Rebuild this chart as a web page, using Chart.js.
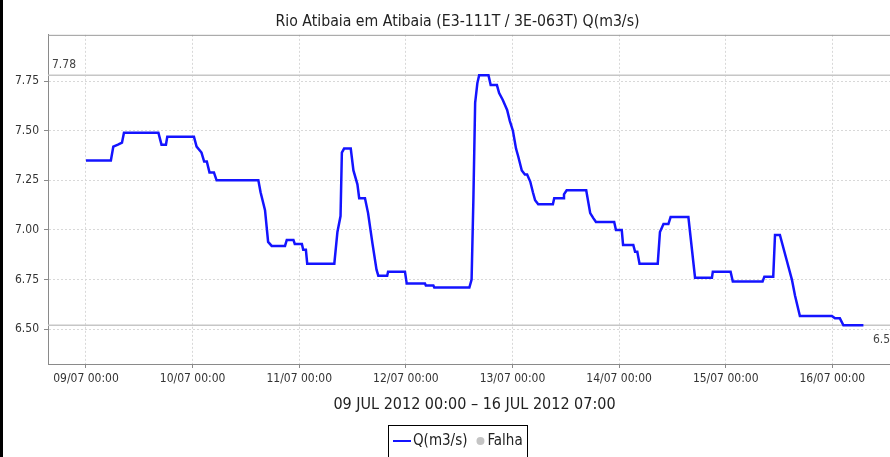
<!DOCTYPE html>
<html>
<head>
<meta charset="utf-8">
<script src="https://cdn.jsdelivr.net/npm/chart.js@4"></script>
<style>
  html, body { margin: 0; padding: 0; background: #fff; overflow: hidden; }
  #wrap { width: 890px; height: 457px; overflow: hidden; }
</style>
</head>
<body>
<div id="wrap"><canvas id="flowChart" width="901" height="457"></canvas></div>
<script>
// hours counted from 09/07/2012 00:00
const hours = [
  0, 5.6, 6.15, 7.2, 8.1, 8.55, 16.3, 17.0, 18.0, 18.3, 24.3, 24.9, 26.0, 26.6, 27.2,
  27.8, 28.8, 29.4, 38.8, 39.3, 40.3, 41.0, 41.8, 44.8, 45.2, 46.7, 47.0, 48.6, 48.9,
  49.5, 49.8, 55.9, 56.6, 57.3, 57.6, 58.1, 59.6, 60.2, 61.1, 61.5, 62.8, 63.5, 64.5,
  65.4, 65.8, 67.8, 68.0, 71.8, 72.2, 76.3, 76.5, 78.2, 78.4, 86.3, 86.8, 87.2, 87.6,
  88.1, 88.5, 90.6, 91.1, 92.5, 93.0, 93.8, 94.8, 95.4, 96.1, 96.8, 97.3, 98.1, 98.8,
  99.3, 100.0, 100.6, 101.1, 101.8, 105.1, 105.4, 107.4, 107.6, 108.2, 112.6, 113.5,
  114.2, 114.8, 118.9, 119.3, 120.6, 120.9, 123.2, 123.6, 124.1, 124.6, 128.7, 129.2,
  130.0, 131.1, 131.6, 135.6, 137.1, 140.9, 141.1, 145.1, 145.6, 152.3, 152.7, 154.7,
  155.1, 156.2, 157.7, 158.9, 159.6, 160.7, 167.9, 168.6, 169.7, 170.5, 175.0
];
const flow = [
  7.35, 7.35, 7.42, 7.43, 7.44, 7.49, 7.49, 7.43, 7.43, 7.47, 7.47, 7.42, 7.39, 7.345, 7.345,
  7.29, 7.29, 7.25, 7.25, 7.19, 7.10, 6.94, 6.92, 6.92, 6.95, 6.95, 6.93, 6.93, 6.90,
  6.90, 6.83, 6.83, 6.99, 7.07, 7.39, 7.41, 7.41, 7.30, 7.23, 7.16, 7.16, 7.085, 6.93,
  6.80, 6.77, 6.77, 6.79, 6.79, 6.73, 6.73, 6.72, 6.72, 6.71, 6.71, 6.75, 7.15, 7.64,
  7.74, 7.78, 7.78, 7.73, 7.73, 7.69, 7.656, 7.605, 7.55, 7.50, 7.41, 7.37, 7.30, 7.28,
  7.28, 7.244, 7.19, 7.15, 7.13, 7.13, 7.16, 7.16, 7.18, 7.20, 7.20, 7.085,
  7.06, 7.04, 7.04, 7.00, 7.00, 6.925, 6.925, 6.89, 6.89, 6.83, 6.83, 6.99,
  7.03, 7.03, 7.065, 7.065, 6.76, 6.76, 6.79, 6.79, 6.74, 6.74, 6.765, 6.765,
  6.975, 6.975, 6.85, 6.75, 6.67, 6.567, 6.567, 6.555, 6.555, 6.52, 6.52
];
const dayLabels = ['09/07 00:00', '10/07 00:00', '11/07 00:00', '12/07 00:00',
  '13/07 00:00', '14/07 00:00', '15/07 00:00', '16/07 00:00'];
const yTicks = [6.50, 6.75, 7.00, 7.25, 7.50, 7.75];

const FONT = '"DejaVu Sans Condensed", "DejaVu Sans", sans-serif';
const maxQ = Math.max(...flow);
const minQ = Math.min(...flow);

Chart.defaults.font.family = FONT;
Chart.defaults.color = '#333';

const decorations = {
  id: 'decorations',
  beforeDatasetsDraw(chart) {
    const { ctx, chartArea: a, scales: { y } } = chart;
    ctx.save();
    ctx.strokeStyle = '#9a9a9a';
    ctx.lineWidth = 1;
    ctx.beginPath();
    ctx.moveTo(a.left, a.top + 0.5);
    ctx.lineTo(a.right, a.top + 0.5);
    ctx.stroke();

    // max / min markers
    ctx.strokeStyle = '#c6c6c6';
    ctx.lineWidth = 1.5;
    ctx.font = '12px ' + FONT;
    ctx.fillStyle = '#444';
    const yMax = y.getPixelForValue(maxQ);
    const yMin = y.getPixelForValue(minQ);
    [yMax, yMin].forEach((py) => {
      ctx.beginPath();
      ctx.moveTo(a.left, py);
      ctx.lineTo(a.right, py);
      ctx.stroke();
    });
    ctx.textAlign = 'left';
    ctx.fillText(maxQ.toFixed(2), a.left + 4, yMax - 7);
    ctx.textAlign = 'right';
    ctx.fillText(minQ.toFixed(2), a.right - 4, yMin + 18);
    ctx.restore();
  },
  afterDraw(chart) {
    const { ctx, height } = chart;
    ctx.save();
    ctx.fillStyle = '#000';
    ctx.fillRect(0, 0, 3, height);

    // legend
    ctx.font = '15px ' + FONT;
    const wQ = ctx.measureText('Q(m3/s)').width;
    const wF = ctx.measureText('Falha').width;
    const total = 5 + 18 + 2 + wQ + 9 + 8 + 3 + wF + 4;
    const left = Math.round(457.5 - total / 2);
    const cy = 441;
    ctx.strokeStyle = '#000';
    ctx.lineWidth = 1;
    ctx.strokeRect(left + 0.5, 425.5, Math.round(total), 40);
    let x = left + 5;
    ctx.strokeStyle = '#1414ff';
    ctx.lineWidth = 2;
    ctx.beginPath();
    ctx.moveTo(x, cy);
    ctx.lineTo(x + 18, cy);
    ctx.stroke();
    x += 20;
    ctx.fillStyle = '#222';
    ctx.textBaseline = 'middle';
    ctx.textAlign = 'left';
    ctx.fillText('Q(m3/s)', x, cy);
    x += wQ + 9;
    ctx.fillStyle = '#c4c4c4';
    ctx.beginPath();
    ctx.arc(x + 4, cy, 4, 0, Math.PI * 2);
    ctx.fill();
    x += 11;
    ctx.fillStyle = '#222';
    ctx.fillText('Falha', x, cy);
    ctx.restore();
  }
};

const gridOpts = {
  color: '#d8d8d8',
  tickLength: 4,
  tickColor: '#8a8a8a',
  tickBorderDash: []
};

new Chart(document.getElementById('flowChart'), {
  type: 'line',
  data: {
    datasets: [{
      label: 'Q(m3/s)',
      data: hours.map((h, i) => ({ x: h, y: flow[i] })),
      borderColor: '#1414ff',
      borderWidth: 2.5,
      pointRadius: 0,
      tension: 0,
      fill: false
    }]
  },
  options: {
    responsive: false,
    animation: false,
    layout: { padding: { left: 14, right: 0, top: 0, bottom: 33 } },
    plugins: {
      legend: { display: false },
      tooltip: { enabled: false },
      title: {
        display: true,
        text: 'Rio Atibaia em Atibaia (E3-111T / 3E-063T) Q(m3/s)',
        color: '#222',
        font: { size: 15.7, weight: 'normal' },
        padding: { top: 13, bottom: 3 }
      }
    },
    scales: {
      x: {
        type: 'linear',
        min: -8.55,
        max: 183.46,
        afterFit: (s) => { s.height = 60; },
        afterBuildTicks: (s) => { s.ticks = dayLabels.map((_, i) => ({ value: i * 24 })); },
        border: { color: '#8a8a8a', dash: [2, 2] },
        grid: gridOpts,
        ticks: {
          autoSkip: false,
          maxRotation: 0,
          padding: 4,
          font: { size: 12 },
          callback: (v) => dayLabels[Math.round(v / 24)] || ''
        },
        title: {
          display: true,
          text: '09 JUL 2012 00:00 – 16 JUL 2012 07:00',
          color: '#222',
          font: { size: 16 },
          padding: { top: 0, bottom: 10 }
        }
      },
      y: {
        min: 6.325,
        max: 7.983,
        afterFit: (s) => { s.width = 34; },
        afterBuildTicks: (s) => { s.ticks = yTicks.map((v) => ({ value: v })); },
        border: { color: '#8a8a8a', dash: [2, 2] },
        grid: gridOpts,
        ticks: {
          padding: 5,
          font: { size: 12 },
          callback: (v) => v.toFixed(2)
        }
      }
    }
  },
  plugins: [decorations]
});
</script>
</body>
</html>
